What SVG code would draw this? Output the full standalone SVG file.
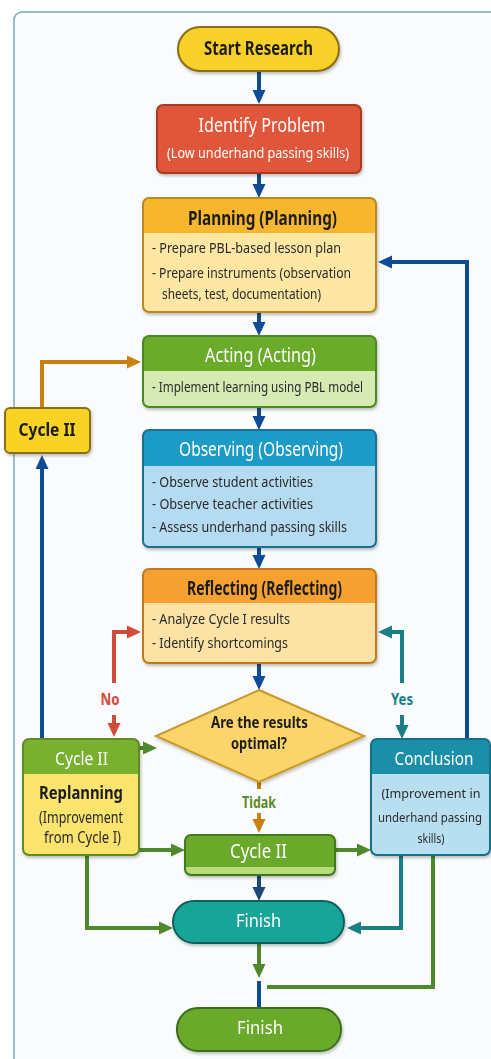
<svg xmlns="http://www.w3.org/2000/svg" width="491" height="1059" viewBox="0 0 491 1059">
<defs>
<style>
text{font-family:"Noto Sans","Open Sans",sans-serif}
.t{font-size:19px;font-weight:bold;text-anchor:middle}
.tw{font-size:19px;text-anchor:middle;fill:#fff}
.b{font-size:15px;fill:#2a2a2a}
.bm{font-size:12.5px;fill:#2a2a2a;text-anchor:middle}
.dark{fill:#1e1e1e}
.c{fill:none;stroke-width:4}
.blue{stroke:#0f4c96}
.orange{stroke:#c8800e}
.red{stroke:#d24a3a}
.teal{stroke:#1a7f85}
.green{stroke:#4e8a2c}
.navy{stroke:#1a4a75}
</style>
<filter id="sh" x="-10%" y="-10%" width="130%" height="140%">
<feDropShadow dx="1" dy="2" stdDeviation="1.5" flood-color="#000" flood-opacity="0.25"/>
</filter>
<marker id="aBlue" viewBox="0 0 14 14" markerWidth="14" markerHeight="14" refX="4" refY="7" orient="auto" markerUnits="userSpaceOnUse"><path d="M0,0.5 L14,7 L0,13.5 z" fill="#0f4c96"/></marker>
<marker id="aNavy" viewBox="0 0 14 14" markerWidth="14" markerHeight="14" refX="4" refY="7" orient="auto" markerUnits="userSpaceOnUse"><path d="M0,0.5 L14,7 L0,13.5 z" fill="#1a4a75"/></marker>
<marker id="aOrange" viewBox="0 0 14 14" markerWidth="14" markerHeight="14" refX="4" refY="7" orient="auto" markerUnits="userSpaceOnUse"><path d="M0,0.5 L14,7 L0,13.5 z" fill="#c8800e"/></marker>
<marker id="aRed" viewBox="0 0 14 14" markerWidth="14" markerHeight="14" refX="4" refY="7" orient="auto" markerUnits="userSpaceOnUse"><path d="M0,0.5 L14,7 L0,13.5 z" fill="#d24a3a"/></marker>
<marker id="aTeal" viewBox="0 0 14 14" markerWidth="14" markerHeight="14" refX="4" refY="7" orient="auto" markerUnits="userSpaceOnUse"><path d="M0,0.5 L14,7 L0,13.5 z" fill="#1a7f85"/></marker>
<marker id="aGreen" viewBox="0 0 14 14" markerWidth="14" markerHeight="14" refX="4" refY="7" orient="auto" markerUnits="userSpaceOnUse"><path d="M0,0.5 L14,7 L0,13.5 z" fill="#4e8a2c"/></marker>
</defs>
<rect width="491" height="1059" fill="#ffffff"/>
<rect id="frame" x="14" y="12" width="520" height="1080" rx="8" fill="#fafbfc" stroke="#7aaabb" stroke-width="1.5"/>

<g id="connectors">
<path class="c blue" d="M259,71 V94" marker-end="url(#aBlue)"/>
<path class="c blue" d="M259,173 V188" marker-end="url(#aBlue)"/>
<path class="c blue" d="M259,312 V326" marker-end="url(#aBlue)"/>
<path class="c blue" d="M259,407 V420" marker-end="url(#aBlue)"/>
<path class="c blue" d="M259,547 V559" marker-end="url(#aBlue)"/>
<path class="c blue" d="M259,663 V680" marker-end="url(#aBlue)"/>
<path class="c orange" d="M259,782 V789"/>
<path class="c orange" d="M259,813 V823" marker-end="url(#aOrange)"/>
<path class="c navy" d="M259,875 V891" marker-end="url(#aNavy)"/>
<path class="c green" d="M259,943 V968" marker-end="url(#aGreen)"/>
<path class="c blue" d="M259,981 V1008"/>
<path class="c orange" d="M42,408 V362 H131" marker-end="url(#aOrange)"/>
<path class="c blue" d="M42,739 V465" marker-end="url(#aBlue)"/>
<path class="c red" d="M114,683 V632 H131" marker-end="url(#aRed)"/>
<path class="c red" d="M114,715 V727" marker-end="url(#aRed)"/>
<path class="c teal" d="M402,683 V632 H388" marker-end="url(#aTeal)"/>
<path class="c teal" d="M402,715 V729" marker-end="url(#aTeal)"/>
<path class="c green" d="M139,748 H147" marker-end="url(#aGreen)"/>
<path class="c green" d="M139,850 H175" marker-end="url(#aGreen)"/>
<path class="c green" d="M335,850 H361" marker-end="url(#aGreen)"/>
<path class="c blue" d="M467,739 V262 H388" marker-end="url(#aBlue)"/>
<path class="c green" d="M87,855 V928 H163" marker-end="url(#aGreen)"/>
<path class="c teal" d="M401,855 V928 H357" marker-end="url(#aTeal)"/>
<path class="c green" d="M433,855 V987 H267" stroke-width="3.5"/>
</g>

<g id="start" filter="url(#sh)">
<rect x="178" y="27" width="161" height="44" rx="22" fill="#f8d02a" stroke="#8a6d12" stroke-width="2"/>
<text class="t dark" x="258.5" y="55" textLength="109" lengthAdjust="spacingAndGlyphs">Start Research</text>
</g>

<g id="identify" filter="url(#sh)">
<rect x="157" y="105" width="204" height="68" rx="6" fill="#e0563a" stroke="#a83a24" stroke-width="2"/>
<text class="tw" x="262" y="132" textLength="127" lengthAdjust="spacingAndGlyphs">Identify Problem</text>
<text x="258" y="158" font-size="15" fill="#fff" text-anchor="middle" textLength="182" lengthAdjust="spacingAndGlyphs">(Low underhand passing skills)</text>
</g>

<g id="planning" filter="url(#sh)">
<rect x="143" y="198" width="233" height="114" rx="6" fill="#fde7a3"/>
<path d="M143,233 V204 Q143,198 149,198 H370 Q376,198 376,204 V233 Z" fill="#f6b72f"/>
<rect x="143" y="198" width="233" height="114" rx="6" fill="none" stroke="#b88a22" stroke-width="2"/>
<text class="t dark" x="262.5" y="225" textLength="149" lengthAdjust="spacingAndGlyphs">Planning (Planning)</text>
<text class="b" x="152" y="253" textLength="189" lengthAdjust="spacingAndGlyphs">- Prepare PBL-based lesson plan</text>
<text class="b" x="152" y="278" textLength="199" lengthAdjust="spacingAndGlyphs">- Prepare instruments (observation</text>
<text class="b" x="162" y="299" textLength="159" lengthAdjust="spacingAndGlyphs">sheets, test, documentation)</text>
</g>

<g id="acting" filter="url(#sh)">
<rect x="143" y="336" width="233" height="71" rx="6" fill="#d6ebb4"/>
<path d="M143,371 V342 Q143,336 149,336 H370 Q376,336 376,342 V371 Z" fill="#6aab2b"/>
<rect x="143" y="336" width="233" height="71" rx="6" fill="none" stroke="#4a8a22" stroke-width="2"/>
<text class="tw" x="260.5" y="362" textLength="111" lengthAdjust="spacingAndGlyphs">Acting (Acting)</text>
<text class="b" x="152" y="392" textLength="211" lengthAdjust="spacingAndGlyphs">- Implement learning using PBL model</text>
</g>

<g id="observing" filter="url(#sh)">
<rect x="143" y="430" width="233" height="117" rx="6" fill="#b4dbef"/>
<path d="M143,466 V436 Q143,430 149,430 H370 Q376,430 376,436 V466 Z" fill="#1f9bc6"/>
<rect x="143" y="430" width="233" height="117" rx="6" fill="none" stroke="#1d6f94" stroke-width="2"/>
<text class="tw" x="261" y="456" textLength="164" lengthAdjust="spacingAndGlyphs">Observing (Observing)</text>
<text class="b" x="152" y="487" textLength="161" lengthAdjust="spacingAndGlyphs">- Observe student activities</text>
<text class="b" x="152" y="509" textLength="161" lengthAdjust="spacingAndGlyphs">- Observe teacher activities</text>
<text class="b" x="152" y="532" textLength="195" lengthAdjust="spacingAndGlyphs">- Assess underhand passing skills</text>
</g>

<g id="reflecting" filter="url(#sh)">
<rect x="143" y="569" width="233" height="94" rx="6" fill="#fde2a6"/>
<path d="M143,603 V575 Q143,569 149,569 H370 Q376,569 376,575 V603 Z" fill="#f5a131"/>
<rect x="143" y="569" width="233" height="94" rx="6" fill="none" stroke="#c07a1e" stroke-width="2"/>
<text class="t dark" x="264.5" y="595" textLength="155" lengthAdjust="spacingAndGlyphs">Reflecting (Reflecting)</text>
<text class="b" x="152" y="624" textLength="138" lengthAdjust="spacingAndGlyphs">- Analyze Cycle I results</text>
<text class="b" x="152" y="648" textLength="136" lengthAdjust="spacingAndGlyphs">- Identify shortcomings</text>
</g>

<g id="decision" filter="url(#sh)">
<polygon points="259,690 364,736 259,782 156,736" fill="#fbd46c" stroke="#c99a2c" stroke-width="2"/>
<text x="259.5" y="728" font-size="16" font-weight="bold" fill="#1e1e1e" text-anchor="middle" textLength="97" lengthAdjust="spacingAndGlyphs">Are the results</text>
<text x="259" y="749" font-size="16" font-weight="bold" fill="#1e1e1e" text-anchor="middle" textLength="56" lengthAdjust="spacingAndGlyphs">optimal?</text>
</g>

<g id="label-no">
<text x="110" y="705" font-size="16" font-weight="bold" fill="#d24a3a" text-anchor="middle" textLength="19" lengthAdjust="spacingAndGlyphs">No</text>
</g>
<g id="label-yes">
<text x="402" y="705" font-size="16" font-weight="bold" fill="#1a7f85" text-anchor="middle" textLength="22" lengthAdjust="spacingAndGlyphs">Yes</text>
</g>
<g id="label-tidak">
<text x="259" y="808" font-size="16" font-weight="bold" fill="#5a8a2a" text-anchor="middle" textLength="34" lengthAdjust="spacingAndGlyphs">Tidak</text>
</g>

<g id="cycle2-top" filter="url(#sh)">
<rect x="5" y="408" width="85" height="45" rx="5" fill="#f9d225" stroke="#8a6d12" stroke-width="2"/>
<text class="dark" x="47" y="436" font-size="18" font-weight="bold" text-anchor="middle" textLength="57" lengthAdjust="spacingAndGlyphs">Cycle II</text>
</g>

<g id="replanning" filter="url(#sh)">
<rect x="23" y="739" width="116" height="116" rx="6" fill="#fbe46e"/>
<path d="M23,774 V745 Q23,739 29,739 H133 Q139,739 139,745 V774 Z" fill="#79b02f"/>
<rect x="23" y="739" width="116" height="116" rx="6" fill="none" stroke="#5f8a25" stroke-width="2"/>
<text x="81.5" y="765" font-size="18" fill="#fff" text-anchor="middle" textLength="53" lengthAdjust="spacingAndGlyphs">Cycle II</text>
<text class="dark" x="81" y="799" font-size="18" font-weight="bold" text-anchor="middle" textLength="84" lengthAdjust="spacingAndGlyphs">Replanning</text>
<text x="81" y="823" font-size="15.5" fill="#2a2a2a" text-anchor="middle" textLength="84" lengthAdjust="spacingAndGlyphs">(Improvement</text>
<text x="82.5" y="843" font-size="15.5" fill="#2a2a2a" text-anchor="middle" textLength="77" lengthAdjust="spacingAndGlyphs">from Cycle I)</text>
</g>

<g id="conclusion" filter="url(#sh)">
<rect x="371" y="739" width="119" height="116" rx="6" fill="#b8dff0"/>
<path d="M371,774 V745 Q371,739 377,739 H484 Q490,739 490,745 V774 Z" fill="#1c8fa8"/>
<rect x="371" y="739" width="119" height="116" rx="6" fill="none" stroke="#17708a" stroke-width="2"/>
<text x="434" y="765" font-size="18" fill="#fff" text-anchor="middle" textLength="79" lengthAdjust="spacingAndGlyphs">Conclusion</text>
<text class="bm" x="431" y="798" textLength="99" lengthAdjust="spacingAndGlyphs">(Improvement in</text>
<text class="bm" x="430" y="822" textLength="104" lengthAdjust="spacingAndGlyphs">underhand passing</text>
<text class="bm" x="431" y="843" textLength="27" lengthAdjust="spacingAndGlyphs">skills)</text>
</g>

<g id="cycle2-mid" filter="url(#sh)">
<rect x="185" y="835" width="150" height="40" rx="6" fill="#b7db7c"/>
<path d="M185,867 V841 Q185,835 191,835 H329 Q335,835 335,841 V867 Z" fill="#69aa2a"/>
<rect x="185" y="835" width="150" height="40" rx="6" fill="none" stroke="#3f7a1e" stroke-width="2"/>
<text x="258.5" y="858" font-size="19" fill="#fff" text-anchor="middle" textLength="57" lengthAdjust="spacingAndGlyphs">Cycle II</text>
</g>

<g id="finish-teal" filter="url(#sh)">
<rect x="173" y="901" width="171" height="42" rx="21" fill="#19a596" stroke="#0e5e5e" stroke-width="2"/>
<text x="258.5" y="927" font-size="18" fill="#fff" text-anchor="middle" textLength="45" lengthAdjust="spacingAndGlyphs">Finish</text>
</g>

<g id="finish-green" filter="url(#sh)">
<rect x="177" y="1008" width="164" height="43" rx="21" fill="#6aaa2a" stroke="#3a6e1a" stroke-width="2"/>
<text x="260" y="1034" font-size="18" fill="#fff" text-anchor="middle" textLength="46" lengthAdjust="spacingAndGlyphs">Finish</text>
</g>
</svg>
